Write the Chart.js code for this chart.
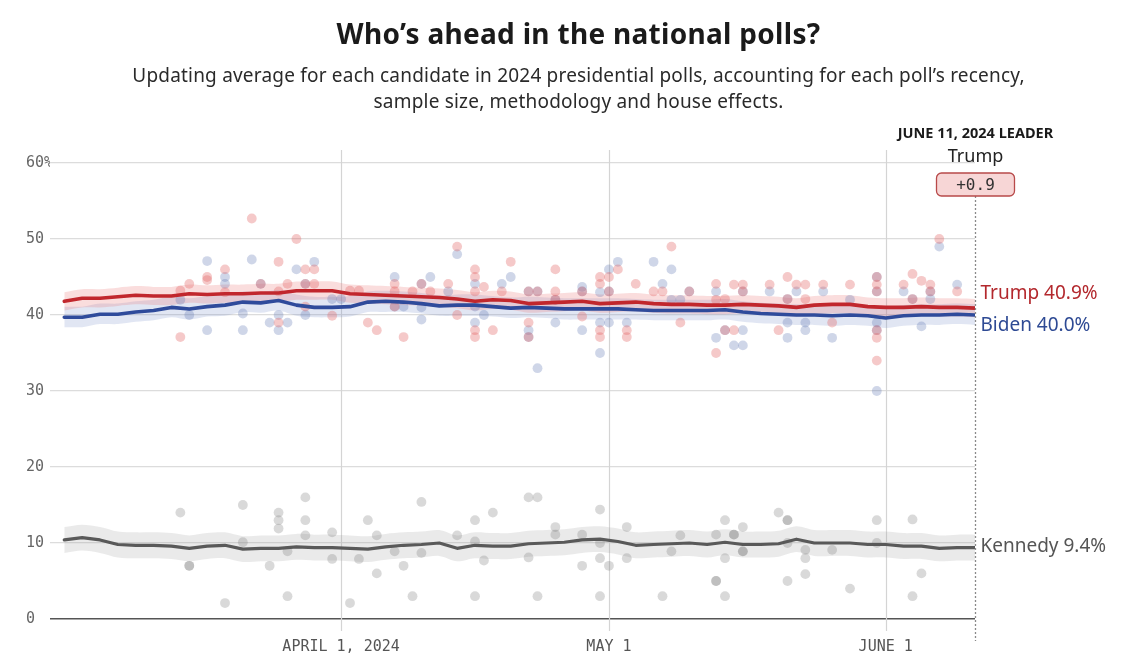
<!DOCTYPE html>
<html>
<head>
<meta charset="utf-8">
<script src="https://cdn.jsdelivr.net/npm/chart.js@4/dist/chart.umd.min.js"></script>
<style>
  html, body { margin: 0; padding: 0; background: #fff; }
  #wrap { position: relative; width: 1125px; height: 671px; overflow: hidden; }
  #chart { position: absolute; left: 0; top: 0; }
  .title { position: absolute; left: 16px; width: 1125px; top: 14px; text-align: center;
    font-family: "Noto Sans", sans-serif; font-weight: 700; font-size: 28px; letter-spacing: 0.3px; color: #1a1a1a; }
  .sub { position: absolute; left: 16px; width: 1125px; top: 62px; text-align: center;
    font-family: "Noto Sans", sans-serif; font-size: 19px; letter-spacing: 0.2px; line-height: 26px; color: #2a2a2a; }
</style>
</head>
<body>
<div id="wrap">
  <canvas id="chart" width="1125" height="671"></canvas>
  <div class="title">Who’s ahead in the national polls?</div>
  <div class="sub">Updating average for each candidate in 2024 presidential polls, accounting for each poll’s recency,<br>sample size, methodology and house effects.</div>
</div>
<script>
// days counted from March 1, 2024 (day 0)
var tickDays = [31, 61, 92];
var tickLabels = ['APRIL 1, 2024', 'MAY 1', 'JUNE 1'];
var yTicks = [0, 10, 20, 30, 40, 50, 60];

// polling averages, one value every 2 days (0..102)
var avgDays = [0,2,4,6,8,10,12,14,16,18,20,22,24,26,28,30,32,34,36,38,40,42,44,46,48,50,
  52,54,56,58,60,62,64,66,68,70,72,74,76,78,80,82,84,86,88,90,92,94,96,98,100,102];
var trumpAvg = [41.8,42.2,42.2,42.4,42.6,42.5,42.5,42.8,42.7,42.8,42.8,42.9,42.9,43.2,43.2,43.2,42.8,42.7,42.6,42.5,42.4,42.3,42.1,41.8,42.0,41.9,
  41.5,41.6,41.7,41.8,41.5,41.6,41.7,41.5,41.4,41.4,41.3,41.3,41.4,41.3,41.2,41.0,41.3,41.4,41.4,41.1,41.0,41.0,41.1,41.0,41.0,40.9];
var bidenAvg = [39.7,39.7,40.1,40.1,40.4,40.6,41.0,40.8,41.1,41.3,41.7,41.6,41.9,41.3,41.0,41.0,41.1,41.7,41.8,41.7,41.5,41.2,41.3,41.3,41.1,40.9,
  41.0,40.9,40.8,40.8,40.8,40.8,40.7,40.6,40.6,40.6,40.6,40.7,40.4,40.2,40.1,40.0,40.0,39.9,40.0,39.9,39.6,39.9,40.0,40.0,40.1,40.0];
var kennedyAvg = [10.4,10.7,10.4,9.8,9.7,9.7,9.6,9.3,9.6,9.7,9.2,9.3,9.3,9.5,9.4,9.4,9.3,9.2,9.5,9.7,9.8,10.0,9.3,9.7,9.6,9.6,
  9.9,10.0,10.1,10.4,10.5,10.2,9.7,9.8,9.9,10.0,9.8,10.1,9.8,9.8,9.9,10.5,10.0,10.0,10.0,9.8,9.8,9.6,9.6,9.3,9.4,9.4];
// half width of the uncertainty band
var trumpMargin = 1.2, bidenMargin = 1.35, kennedyMargin = 1.7;

// individual polls [day, value]
var trumpPolls = [[13,37.1],[13,43.2],[14,44.1],[16,45.0],[16,44.6],[18,46.0],[18,43.0],[21,52.7],[22,44.1],
  [24,47.0],[24,39.0],[24,43.1],[25,44.1],[26,50.0],[27,46.0],[27,44.1],[27,41.1],[28,46.0],[28,44.1],[30,39.9],
  [32,43.2],[33,43.2],[34,39.0],[35,38.0],[37,44.1],[37,43.1],[37,41.1],[38,37.1],[39,43.1],[40,44.1],[41,43.1],
  [43,44.1],[44,49.0],[44,40.0],[46,46.0],[46,45.0],[46,43.1],[46,38.0],[46,37.1],[47,43.7],[48,38.0],[49,43.1],
  [50,47.0],[52,43.1],[52,39.0],[52,37.1],[53,43.1],[55,46.0],[55,43.1],[55,42.0],[58,43.1],[58,39.8],[60,44.1],
  [60,45.0],[60,38.0],[60,37.1],[61,45.0],[61,43.1],[62,46.0],[63,38.0],[63,37.1],[64,44.1],[66,43.1],[67,43.1],
  [68,49.0],[69,39.0],[70,43.1],[73,44.1],[73,42.0],[73,35.0],[74,42.1],[74,38.0],[75,44.0],[75,38.0],[76,44.0],
  [76,43.1],[79,44.0],[80,38.0],[81,45.0],[81,42.1],[82,44.0],[83,44.0],[83,42.1],[85,44.0],[86,39.0],[88,44.0],
  [91,45.0],[91,44.0],[91,43.1],[91,38.0],[91,37.0],[91,34.0],[94,44.0],[95,45.4],[95,42.1],[96,44.5],[97,44.0],
  [97,43.1],[98,50.0],[100,43.1]];
var bidenPolls = [[13,42.0],[14,40.0],[16,47.1],[16,38.0],[18,45.0],[18,44.1],[20,40.2],[20,38.0],[21,47.3],[22,44.1],
  [23,39.0],[24,40.0],[24,38.0],[25,39.0],[26,46.0],[27,44.1],[27,40.0],[28,47.0],[30,42.1],[31,42.1],[37,45.0],
  [37,41.1],[38,41.1],[40,41.0],[40,39.4],[40,44.1],[41,45.0],[43,43.1],[44,48.0],[46,44.1],[46,41.1],[46,39.0],
  [47,40.0],[49,44.1],[50,45.0],[52,43.1],[52,38.0],[52,37.1],[53,43.1],[53,33.0],[55,42.0],[55,39.0],[58,43.7],
  [58,43.1],[58,38.0],[60,43.0],[60,39.0],[60,35.0],[61,46.0],[61,43.1],[61,39.0],[62,47.0],[63,39.0],[66,47.0],
  [67,44.1],[68,46.0],[68,42.0],[69,42.0],[70,43.1],[73,43.1],[73,37.0],[74,38.0],[75,36.0],[76,43.1],[76,38.0],
  [76,36.0],[79,43.1],[81,42.1],[81,39.0],[81,37.0],[82,43.1],[83,39.0],[83,38.0],[85,43.1],[86,37.0],[88,42.0],
  [91,45.0],[91,43.1],[91,39.0],[91,38.0],[91,30.0],[94,43.1],[95,42.1],[96,38.5],[97,43.1],[97,42.1],[98,49.0],[100,44.0]];
var kennedyPolls = [[13,14.0],[14,7.0],[14,7.0],[18,2.1],[20,15.0],[20,10.1],[23,7.0],[24,14.0],[24,13.0],[24,11.9],
  [25,8.9],[25,3.0],[27,16.0],[27,13.0],[27,11.0],[30,11.4],[30,7.9],[32,2.1],[33,7.9],[34,13.0],[35,11.0],[35,6.0],
  [37,8.9],[38,7.0],[39,3.0],[40,15.4],[40,8.7],[44,11.0],[46,13.0],[46,10.2],[46,3.0],[47,7.7],[48,14.0],[52,16.0],
  [52,8.1],[53,16.0],[53,3.0],[55,12.1],[55,11.1],[58,11.1],[58,7.0],[60,14.4],[60,10.0],[60,8.0],[60,3.0],[61,7.0],
  [63,12.1],[63,8.0],[67,3.0],[68,8.9],[69,11.0],[73,11.1],[73,5.0],[73,5.0],[74,13.0],[74,8.0],[74,3.0],[75,11.1],
  [75,11.1],[76,12.1],[76,8.9],[76,8.9],[80,14.0],[81,13.0],[81,13.0],[81,10.0],[81,5.0],[83,9.1],[83,8.0],[83,5.9],
  [86,9.1],[88,4.0],[91,13.0],[91,10.0],[95,13.1],[95,3.0],[96,6.0]];

var leaderDate = 'JUNE 11, 2024 LEADER';
var leaderName = 'Trump';
var leaderMargin = '+0.9';

// helpers
function pts(xs, ys) {
  return xs.map(function (d, i) { return { x: d, y: ys[i] }; });
}
function shift(ys, m) {
  return ys.map(function (v) { return Math.round((v + m) * 10) / 10; });
}
function pollPts(list) {
  return list.map(function (p) { return { x: p[0], y: p[1] }; });
}
function lineSet(label, ys, color, w) {
  return { label: label, data: pts(avgDays, ys), borderColor: color, borderWidth: w,
    pointRadius: 0, tension: 0, borderJoinStyle: 'round', borderCapStyle: 'round', fill: false, order: 0 };
}
function dotSet(label, list, color) {
  return { label: label, data: pollPts(list), showLine: false, pointRadius: 4.9, pointHoverRadius: 4.9,
    pointBackgroundColor: color, pointBorderWidth: 0, order: 1 };
}
function bandSet(label, ys, m, color, upper) {
  return { label: label, data: pts(avgDays, shift(ys, upper ? m : -m)), borderWidth: 0, pointRadius: 0,
    tension: 0.3, fill: upper ? '+1' : false, backgroundColor: color, order: 2 };
}

var MONO = '"DejaVu Sans Mono", monospace';
var SANS = '"Noto Sans", sans-serif';

// extra drawing: month lines, end marker, labels, leader badge
var decor = {
  id: 'decor',
  beforeDatasetsDraw: function (chart) {
    var c = chart.ctx, xs = chart.scales.x;
    c.save();
    c.strokeStyle = '#d4d4d4';
    c.lineWidth = 1.2;
    tickDays.forEach(function (d) {
      var px = Math.round(xs.getPixelForValue(d)) + 0.5;
      c.beginPath(); c.moveTo(px, 150); c.lineTo(px, 631); c.stroke();
    });
    c.restore();
  },
  afterDatasetsDraw: function (chart) {
    var c = chart.ctx, xs = chart.scales.x, ys = chart.scales.y;
    var ex = Math.round(xs.getPixelForValue(102)) + 0.5;
    c.save();
    // dotted end-of-data line
    c.strokeStyle = '#8a8a8a';
    c.lineWidth = 1.3;
    c.setLineDash([2, 2]);
    c.beginPath(); c.moveTo(ex, 180); c.lineTo(ex, 641); c.stroke();
    c.setLineDash([]);

    // right side labels
    c.font = '19px ' + SANS;
    c.textAlign = 'left';
    c.textBaseline = 'middle';
    var last = avgDays.length - 1;
    c.fillStyle = '#b3282d';
    c.fillText('Trump ' + trumpAvg[last].toFixed(1) + '%', ex + 5, ys.getPixelForValue(trumpAvg[last]) - 15);
    c.fillStyle = '#2e4a94';
    c.fillText('Biden ' + bidenAvg[last].toFixed(1) + '%', ex + 5, ys.getPixelForValue(bidenAvg[last]) + 11);
    c.fillStyle = '#555';
    c.fillText('Kennedy ' + kennedyAvg[last].toFixed(1) + '%', ex + 5, ys.getPixelForValue(kennedyAvg[last]) - 1);

    // leader header
    c.textAlign = 'center';
    c.fillStyle = '#1a1a1a';
    c.font = 'bold 14.5px ' + SANS;
    c.fillText(leaderDate, ex, 134);
    c.font = '18px ' + SANS;
    c.fillStyle = '#222';
    c.fillText(leaderName, ex, 157);

    // badge
    var bx = ex - 39, by = 173, bw = 78, bh = 23;
    c.beginPath();
    c.roundRect(bx, by, bw, bh, 5);
    c.fillStyle = '#f7d6d6';
    c.fill();
    c.strokeStyle = '#b84a4a';
    c.lineWidth = 1.3;
    c.stroke();
    c.fillStyle = '#333';
    c.font = '16px ' + MONO;
    c.fillText(leaderMargin, ex, by + bh / 2 + 1);
    c.restore();
  }
};

var ctx = document.getElementById('chart').getContext('2d');
new Chart(ctx, {
  type: 'line',
  data: {
    datasets: [
      lineSet('Trump', trumpAvg, '#c1272d', 3.6),
      lineSet('Biden', bidenAvg, '#2f4b9b', 3.6),
      lineSet('Kennedy', kennedyAvg, '#595959', 3.2),
      dotSet('Trump polls', trumpPolls, 'rgba(226,100,100,0.35)'),
      dotSet('Biden polls', bidenPolls, 'rgba(95,118,180,0.3)'),
      dotSet('Kennedy polls', kennedyPolls, 'rgba(130,130,130,0.3)'),
      bandSet('Trump hi', trumpAvg, trumpMargin, 'rgba(236,120,120,0.25)', true),
      bandSet('Trump lo', trumpAvg, trumpMargin, 'rgba(0,0,0,0)', false),
      bandSet('Biden hi', bidenAvg, bidenMargin, 'rgba(120,140,200,0.22)', true),
      bandSet('Biden lo', bidenAvg, bidenMargin, 'rgba(0,0,0,0)', false),
      bandSet('Kennedy hi', kennedyAvg, kennedyMargin, 'rgba(160,160,160,0.22)', true),
      bandSet('Kennedy lo', kennedyAvg, kennedyMargin, 'rgba(0,0,0,0)', false)
    ]
  },
  options: {
    responsive: false,
    animation: false,
    events: [],
    layout: { padding: { left: 26, right: 150, top: 163, bottom: 0 } },
    plugins: { legend: { display: false }, tooltip: { enabled: false } },
    scales: {
      x: {
        type: 'linear',
        min: -1.6,
        max: 102,
        afterBuildTicks: function (s) { s.ticks = tickDays.map(function (d) { return { value: d }; }); },
        afterFit: function (s) { s.height = 52; },
        grid: { display: false },
        border: { display: false },
        ticks: {
          padding: 11,
          maxRotation: 0,
          autoSkip: false,
          color: '#555',
          font: { family: MONO, size: 15 },
          callback: function (v) { return tickLabels[tickDays.indexOf(v)]; }
        }
      },
      y: {
        min: 0,
        max: 60,
        afterBuildTicks: function (s) { s.ticks = yTicks.map(function (v) { return { value: v }; }); },
        afterFit: function (s) { s.width = 24; },
        border: { display: false },
        grid: {
          drawTicks: false,
          color: function (c) { return c.tick && c.tick.value === 0 ? '#555' : '#dcdcdc'; },
          lineWidth: function (c) { return c.tick && c.tick.value === 0 ? 1.6 : 1.2; }
        },
        ticks: {
          crossAlign: 'far',
          padding: 0,
          color: '#666',
          font: { family: MONO, size: 15 },
          callback: function (v) { return v === 60 ? v + '%' : v; }
        }
      }
    }
  },
  plugins: [decor]
});
</script>
</body>
</html>
